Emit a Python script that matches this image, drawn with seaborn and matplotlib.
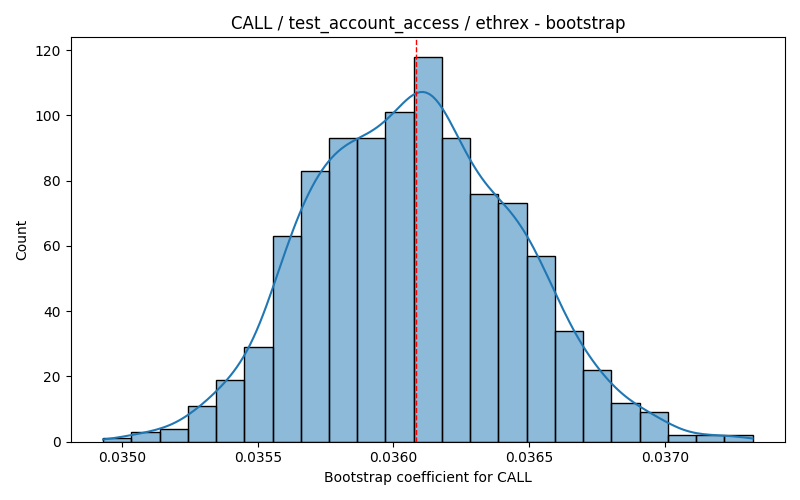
import numpy as np
import matplotlib
matplotlib.use('Agg')
import matplotlib.pyplot as plt
import seaborn as sns

# counts per bin (1000 bootstrap samples)
bin_start = 0.034930
bin_width = 0.00010407
counts = [1, 3, 4, 11, 19, 29, 63, 83, 93, 93, 101, 118,
          93, 76, 73, 57, 34, 22, 12, 9, 2, 2, 2]
mean_coef = 0.036085

title = 'CALL / test_account_access / ethrex - bootstrap'
xlabel = 'Bootstrap coefficient for CALL'

edges = bin_start + bin_width * np.arange(len(counts) + 1)
centers = (edges[:-1] + edges[1:]) / 2
samples = np.repeat(centers, counts)

fig, ax = plt.subplots(figsize=(8, 5), dpi=100)
sns.histplot(x=samples, bins=edges, kde=True, ax=ax,
             kde_kws={'cut': 3, 'clip': (edges[0], edges[-1]), 'bw_adjust': 0.9})
ax.axvline(mean_coef, color='red', linestyle='--', linewidth=1)
ax.set_title(title)
ax.set_xlabel(xlabel)
ax.set_ylabel('Count')
plt.tight_layout()
plt.savefig('out.png')
